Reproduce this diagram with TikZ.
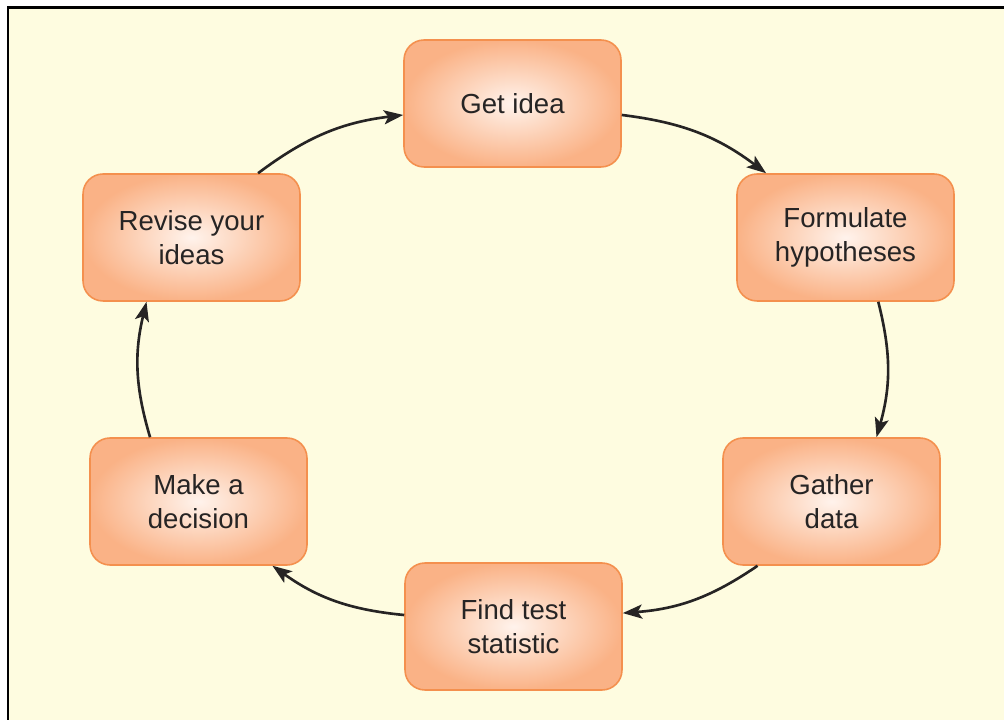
\documentclass[tikz,border=0pt]{standalone}
\usepackage{fontspec}
\setmainfont{Liberation Sans}
\usetikzlibrary{arrows.meta}
\usepackage{xcolor}
\definecolor{pagebg}{HTML}{FEFCE0}
\definecolor{boxedge}{HTML}{F4904E}
\definecolor{boxouter}{HTML}{FAB286}
\definecolor{boxinner}{HTML}{FFF3EC}
\definecolor{inkgray}{HTML}{262424}

\begin{document}
\begin{tikzpicture}[
  x=0.02cm, y=0.02cm,
  box/.style={draw=boxedge, line width=0.9pt, inner color=boxinner, outer color=boxouter,
              rounded corners=0.4cm, minimum width=4.34cm, minimum height=2.54cm,
              font=\fontsize{15.7}{19.3}\selectfont, text=inkgray, align=center},
  arr/.style={-{Stealth[length=11pt, width=8pt, inset=2.5pt]}, line width=1.5pt,
              color=inkgray, bend left=15}
]
  \useasboundingbox (0,0) rectangle (1004,720);

  % Background and frame
  \fill[white] (0,0) rectangle (1004,720);
  \fill[pagebg] (8,0) rectangle (1004,712);
  \draw[black, line width=1.7pt] (8,0) -- (8,712) -- (1004,712);

  % Cycle boxes
  \node[box] (idea)   at (512.5,616.5) {Get idea};
  \node[box] (hyp)    at (845.5,482.5) {Formulate\\hypotheses};
  \node[box] (data)   at (831.5,218.5) {Gather\\data};
  \node[box] (stat)   at (513.5,93.5)  {Find test\\statistic};
  \node[box] (decide) at (198.5,218.5) {Make a\\decision};
  \node[box] (revise) at (191.5,482.5) {Revise your\\ideas};

  % Arrows round the cycle
  \draw[arr] (idea.-6)     to (hyp.141);
  \draw[arr] (hyp.-63)     to (data.55);
  \draw[arr] (data.-139)   to (stat.7);
  \draw[arr] (stat.174)    to (decide.-41);
  \draw[arr] (decide.127)  to (revise.-125);
  \draw[arr] (revise.44)   to (idea.186);
\end{tikzpicture}
\end{document}
